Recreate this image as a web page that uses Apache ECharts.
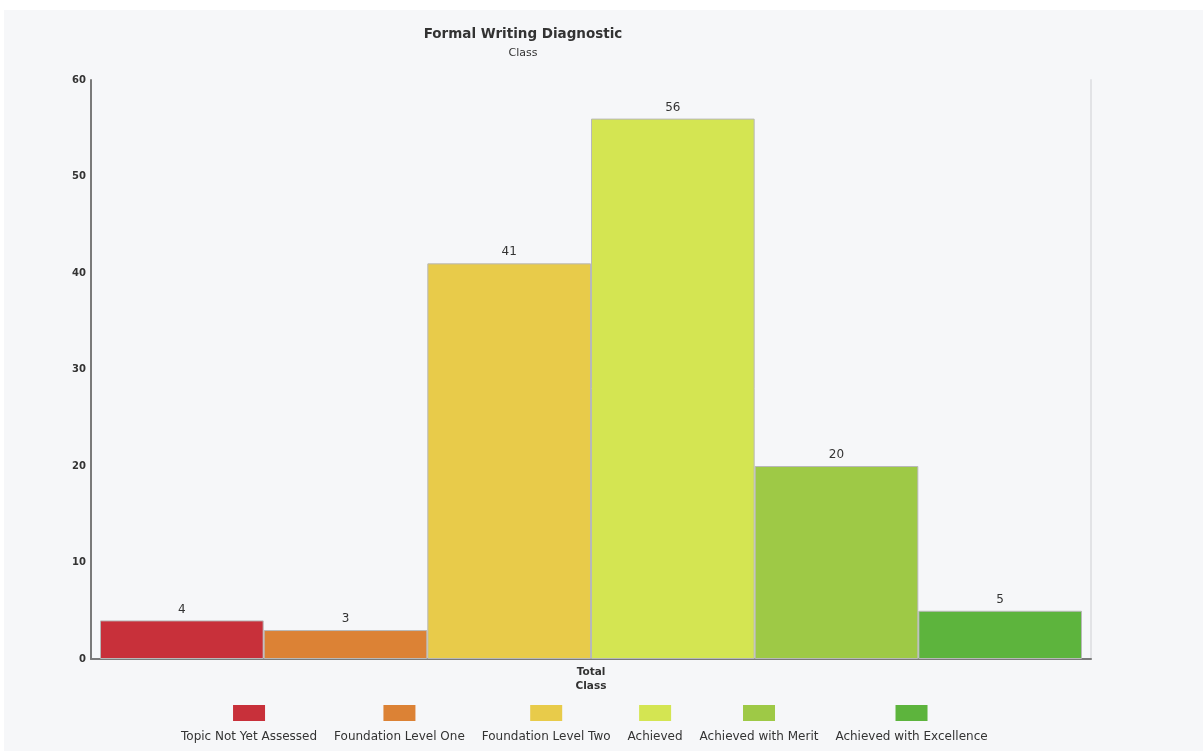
<!DOCTYPE html>
<html>
<head>
<meta charset="utf-8">
<script src="https://cdn.jsdelivr.net/npm/echarts@6/dist/echarts.min.js"></script>
<style>
  html, body { margin: 0; padding: 0; background: #ffffff; }
  #bg { position: absolute; left: 4px; top: 10px; width: 1199px; height: 741px; background: #f6f7f9; }
  #chart { position: absolute; left: 0; top: 0; width: 1203px; height: 751px; }
</style>
</head>
<body>
<div id="bg"></div>
<div id="chart"></div>
<script>
const categories = ['Total\nClass'];
const seriesNames = ['Topic Not Yet Assessed', 'Foundation Level One', 'Foundation Level Two', 'Achieved', 'Achieved with Merit', 'Achieved with Excellence'];
const seriesValues = [4, 3, 41, 56, 20, 5];
const seriesColors = ['#c8303a', '#dc8235', '#e8cb4a', '#d4e552', '#9ec946', '#5db43d'];
const yTicks = [0, 10, 20, 30, 40, 50, 60];

const FONT = '"DejaVu Sans", Verdana, sans-serif';

const rich = {};
seriesColors.forEach((c, i) => {
  rich['box' + i] = { width: 32, height: 16, backgroundColor: c, align: 'center' };
});
rich.txt = { fontFamily: FONT, fontSize: 12, color: '#333', lineHeight: 32, align: 'center' };

const series = seriesNames.map((name, i) => ({
  name: name,
  type: 'bar',
  barGap: '0%',
  barCategoryGap: '1.8%',
  data: [seriesValues[i]],
  itemStyle: { color: seriesColors[i], borderColor: '#b8b8b8', borderWidth: 1 },
  label: { show: true, position: 'top', distance: 5, fontFamily: FONT, fontSize: 12, color: '#333' },
  emphasis: { disabled: true }
}));

const chart = echarts.init(document.getElementById('chart'), null, { renderer: 'canvas' });
chart.setOption({
  backgroundColor: 'transparent',
  animation: false,
  title: {
    text: 'Formal Writing Diagnostic',
    subtext: 'Class',
    left: 523,
    top: 27,
    textAlign: 'center',
    itemGap: 7,
    padding: 0,
    textStyle: { fontFamily: FONT, fontSize: 13.5, fontWeight: 'bold', color: '#333' },
    subtextStyle: { fontFamily: FONT, fontSize: 11, color: '#333' }
  },
  legend: {
    data: seriesNames,
    left: 176,
    top: 705,
    padding: 0,
    itemGap: 12,
    itemWidth: 0,
    itemHeight: 0,
    icon: 'none',
    selectedMode: false,
    formatter: function (name) {
      const i = seriesNames.indexOf(name);
      return '{box' + i + '| }\n{txt|' + name + '}';
    },
    textStyle: { rich: rich, fontFamily: FONT, fontSize: 12, color: '#333' }
  },
  grid: { left: 91, right: 112, top: 80, bottom: 92, containLabel: false },
  xAxis: {
    type: 'category',
    data: categories,
    axisLine: { show: true, lineStyle: { color: '#7a7a7a', width: 2 } },
    axisTick: { show: false },
    axisLabel: { fontFamily: FONT, fontSize: 10.5, fontWeight: 'bold', color: '#333', lineHeight: 14, margin: 6 }
  },
  yAxis: [{
    type: 'value',
    min: 0,
    max: 60,
    interval: 10,
    axisLine: { show: true, lineStyle: { color: '#7a7a7a', width: 2 } },
    axisTick: { show: false },
    splitLine: { show: false },
    axisLabel: {
      fontFamily: FONT, fontSize: 10, fontWeight: 'bold', color: '#333', margin: 5,
      formatter: v => (yTicks.indexOf(v) >= 0 ? String(v) : '')
    }
  }, {
    type: 'value',
    position: 'right',
    min: 0,
    max: 60,
    interval: 10,
    axisLine: { show: true, lineStyle: { color: '#e2e3e6', width: 2 } },
    axisTick: { show: false },
    splitLine: { show: false },
    axisLabel: { show: false }
  }],
  series: series
});
</script>
</body>
</html>
